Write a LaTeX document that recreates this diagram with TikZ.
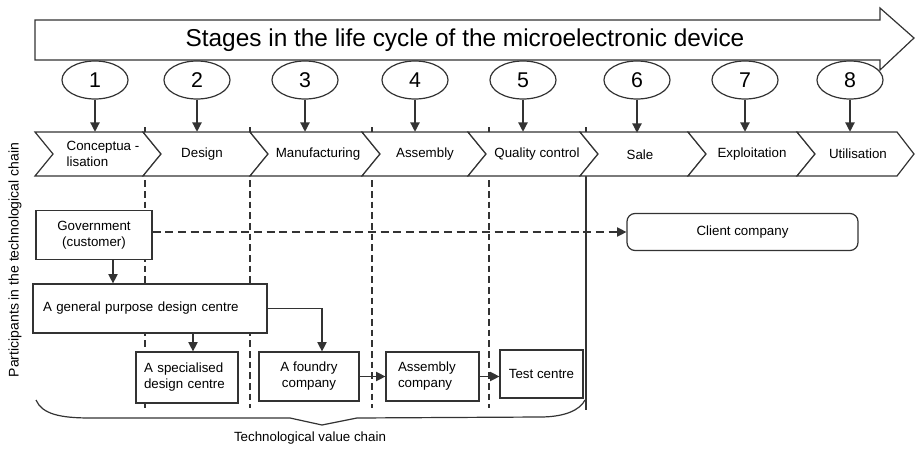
\documentclass[tikz,border=0pt]{standalone}
\usepackage{fontspec}
\setmainfont{Liberation Sans}
\usetikzlibrary{arrows.meta,shapes.geometric}

\tikzset{
  ln/.style={draw=black!80, line width=0.9pt},
  num/.style={ln, ellipse, fill=white, minimum width=49.5pt, minimum height=28.5pt, inner sep=0pt, font=\fontsize{16}{19}\selectfont},
  stagetxt/.style={inner sep=0pt, minimum height=33pt, font=\fontsize{10}{12}\selectfont, align=left},
  actor/.style={ln, fill=white, inner sep=0pt, font=\fontsize{10}{12}\selectfont},
  arr/.style={ln, -{Triangle[length=7pt,width=7pt]}},
  dasharr/.style={arr, dash pattern=on 6pt off 3.5pt},
  divider/.style={ln, dash pattern=on 5pt off 3pt}
}

\begin{document}
\begin{tikzpicture}[x=0.75pt,y=0.75pt,yscale=-1,xscale=1]
	\useasboundingbox (0,0) rectangle (915,450);
	% dividers between the stages
	\draw [divider] (145,127) -- (145,408) ;
	\draw [divider] (250,127) -- (250,408) ;
	\draw [divider] (372,127) -- (372,408) ;
	\draw [divider] (489,127) -- (489,408) ;
	\draw [ln] (586,127) -- (586,410) ;
	% big arrow
	\draw [ln, fill=white] (35,20) -- (880,20) -- (880,8) -- (914,38) -- (880,70) -- (880,60) -- (35,60) -- cycle ;
	\node (title) at (465,40) {\fontsize{18.3}{21}\selectfont Stages in the life cycle of the microelectronic device};
	% numbers
	\node [num] (e1) at (95,80) {1};
	\node [num] (e2) at (197,80) {2};
	\node [num] (e3) at (305,80) {3};
	\node [num] (e4) at (415,80) {4};
	\node [num] (e5) at (523,80) {5};
	\node [num] (e6) at (637,80) {6};
	\node [num] (e7) at (745,80) {7};
	\node [num] (e8) at (850,80) {8};
	% chevrons
	\draw [ln, fill=white] (35,132) -- (143,132) -- (161,154) -- (143,176) -- (35,176) -- (53,154) -- cycle ;
	\draw [ln, fill=white] (143,132) -- (250,132) -- (268,154) -- (250,176) -- (143,176) -- (161,154) -- cycle ;
	\draw [ln, fill=white] (250,132) -- (362,132) -- (380,154) -- (362,176) -- (250,176) -- (268,154) -- cycle ;
	\draw [ln, fill=white] (362,132) -- (468,132) -- (486,154) -- (468,176) -- (362,176) -- (380,154) -- cycle ;
	\draw [ln, fill=white] (468,132) -- (580,132) -- (598,154) -- (580,176) -- (468,176) -- (486,154) -- cycle ;
	\draw [ln, fill=white] (580,132) -- (688,132) -- (706,154) -- (688,176) -- (580,176) -- (598,154) -- cycle ;
	\draw [ln, fill=white] (688,132) -- (797,132) -- (815,154) -- (797,176) -- (688,176) -- (706,154) -- cycle ;
	\draw [ln, fill=white] (797,132) -- (897,132) -- (914,154) -- (897,176) -- (797,176) -- (815,154) -- cycle ;
	\node [stagetxt] (s1) at (103,154) {Conceptua -\\lisation};
	\node [stagetxt] (s2) at (202,154) {Design};
	\node [stagetxt] (s3) at (318,154) {Manufacturing};
	\node [stagetxt] (s4) at (425,154) {Assembly};
	\node [stagetxt] (s5) at (537,154) {Quality control};
	\node [stagetxt] (s6) at (640,155) {Sale};
	\node [stagetxt] (s7) at (752,154) {Exploitation};
	\node [stagetxt] (s8) at (858,154) {Utilisation};
	\draw [arr] (e1) -- (e1 |- s1.north) ;
	\draw [arr] (e2) -- (e2 |- s2.north) ;
	\draw [arr] (e3) -- (e3 |- s3.north) ;
	\draw [arr] (e4) -- (e4 |- s4.north) ;
	\draw [arr] (e5) -- (e5 |- s5.north) ;
	\draw [arr] (e6) -- (e6 |- s6.north) ;
	\draw [arr] (e7) -- (e7 |- s7.north) ;
	\draw [arr] (e8) -- (e8 |- s8.north) ;
	% participants
	\node [actor, minimum width=87pt, minimum height=36.75pt, align=center] (gov) at (94,235) {Government\\(customer)};
	\node [actor, text width=160.5pt, inner xsep=7.5pt, minimum height=36.75pt, align=left] (gpdc) at (150,308.5) {A general purpose design centre};
	\node [actor, text width=64.5pt, inner xsep=6pt, minimum height=38.25pt, align=left] (spec) at (187,377.5) {A specialised\\design centre};
	\node [actor, minimum width=75pt, minimum height=36.75pt, align=center] (foundry) at (309,376.5) {A foundry\\company};
	\node [actor, text width=51.75pt, inner xsep=9pt, minimum height=36.75pt, align=left] (asm) at (432.5,376.5) {Assembly\\company};
	\node [actor, minimum width=62.25pt, minimum height=36pt] (test) at (541.5,374) {Test centre};
	\node [actor, rounded corners=6pt, minimum width=173.25pt, minimum height=27.75pt] (client) at (742.5,232) {Client company};
	\draw [dasharr] (gov.east |- client.west) -- (client.west) ;
	\draw [arr] ([xshift=14.25pt]gov.south) -- ([xshift=14.25pt]gov.south |- gpdc.north) ;
	\draw [arr] ([xshift=4.5pt]spec.north |- gpdc.south) -- ([xshift=4.5pt]spec.north) ;
	\draw [arr] (gpdc.east) -| ([xshift=9.75pt]foundry.north) ;
	\draw [arr] (foundry.east) -- (asm.west) ;
	\draw [arr] (asm.east) -- (asm.east -| test.west) ;
	% brace
	\draw [ln] (36,400) .. controls (42,414) and (60,418) .. (90,418) -- (290,418) -- (322,425) -- (357,418) -- (540,417) .. controls (565,417) and (580,410) .. (585,400) ;
	\node (tvc) at (310,438) {\fontsize{10}{12}\selectfont Technological value chain};
	\node [rotate=90] (ptc) at (15,260) {\fontsize{10.5}{12}\selectfont Participants in the technological chain};
\end{tikzpicture}
\end{document}
